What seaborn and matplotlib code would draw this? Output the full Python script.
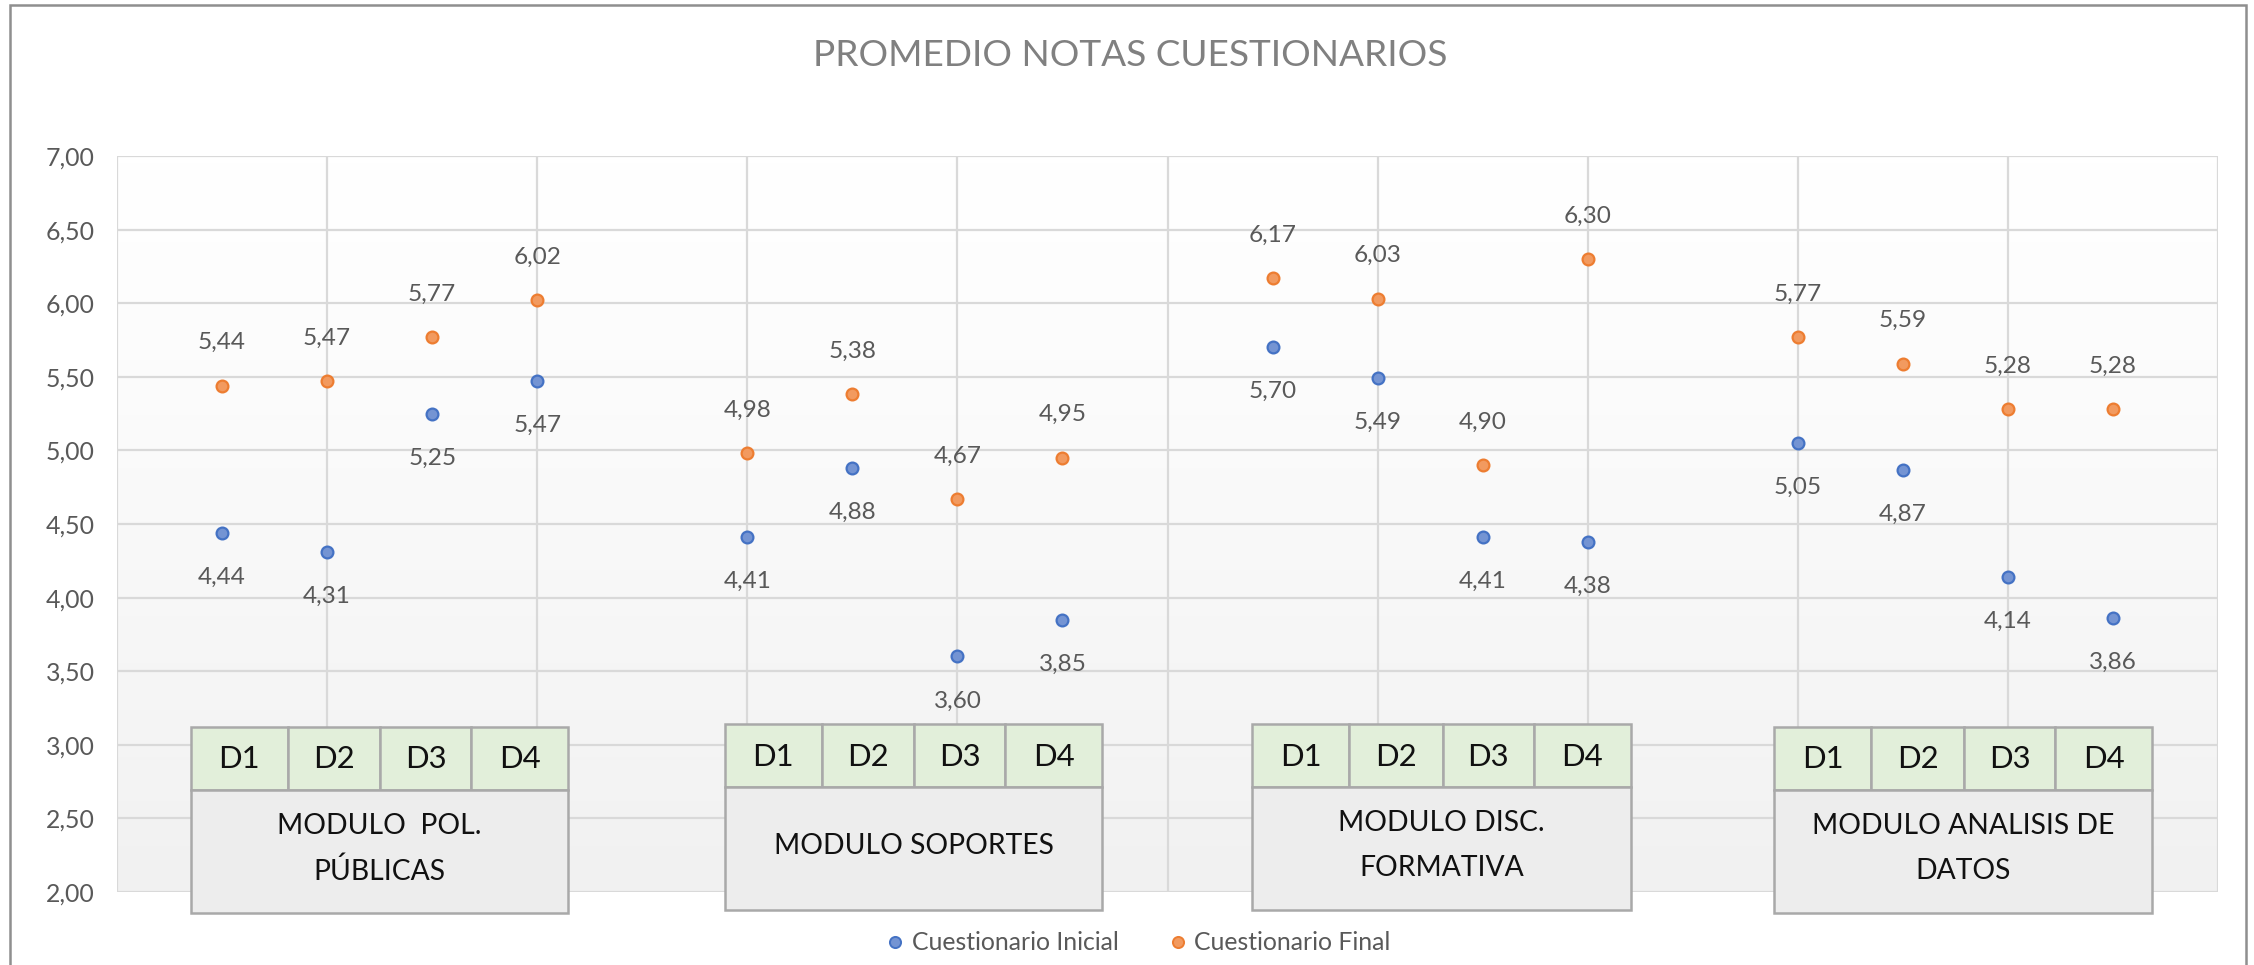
import numpy as np
import pandas as pd
import matplotlib
matplotlib.use("Agg")
import matplotlib.pyplot as plt
import seaborn as sns
from matplotlib.patches import Rectangle
from matplotlib.lines import Line2D
from matplotlib.colors import LinearSegmentedColormap

# ---------------- data ----------------
title = "PROMEDIO NOTAS CUESTIONARIOS"
modules = ["MODULO  POL.\nPÚBLICAS", "MODULO SOPORTES",
           "MODULO DISC.\nFORMATIVA", "MODULO ANALISIS DE\nDATOS"]
dims = ["D1", "D2", "D3", "D4"]
series_names = ["Cuestionario Inicial", "Cuestionario Final"]
x_pos = [0.5, 1.0, 1.5, 2.0, 3.0, 3.5, 4.0, 4.5,
         5.5, 6.0, 6.5, 7.0, 8.0, 8.5, 9.0, 9.5]
inicial = [4.44, 4.31, 5.25, 5.47, 4.41, 4.88, 3.60, 3.85,
           5.70, 5.49, 4.41, 4.38, 5.05, 4.87, 4.14, 3.86]
final = [5.44, 5.47, 5.77, 6.02, 4.98, 5.38, 4.67, 4.95,
         6.17, 6.03, 4.90, 6.30, 5.77, 5.59, 5.28, 5.28]
y_ticks = [2.0, 2.5, 3.0, 3.5, 4.0, 4.5, 5.0, 5.5, 6.0, 6.5, 7.0]
y_tick_labels = ["2,00", "2,50", "3,00", "3,50", "4,00", "4,50",
                 "5,00", "5,50", "6,00", "6,50", "7,00"]

# ---------------- style ----------------
sns.set_theme(style="white")
plt.rcParams["font.family"] = ["Lato", "DejaVu Sans"]

BLUE_FACE, BLUE_EDGE = "#7494D3", "#4472C4"
ORANGE_FACE, ORANGE_EDGE = "#F29A5F", "#ED7D31"
TXT = "#595959"

W, H = 2254, 965
fig = plt.figure(figsize=(W / 100, H / 100), dpi=100)
fig.patch.set_facecolor("white")
renderer = fig.canvas.get_renderer()


def fx(px):
    return px / W


def fy(py):
    return 1 - py / H


def size_for(sample, target_px, base=20.0):
    t = fig.text(0, 0, sample, fontsize=base)
    w = t.get_window_extent(renderer).width
    t.remove()
    return base * target_px / w


FS_TITLE = size_for(title, 632)
FS_TICK = size_for("7,00", 49)
FS_LABEL = size_for("4,14", 48)
FS_MOD = size_for("MODULO ANALISIS DE", 300)
FS_DIM = FS_MOD * 1.1
FS_LEG = size_for(series_names[0], 208)

ax = fig.add_axes([fx(117), fy(892), fx(2218) - fx(117), fy(156) - fy(892)])

# gradient plot-area background
cmap = LinearSegmentedColormap.from_list("bg", ["#ffffff", "#f1f1f1"])
ax.imshow(np.linspace(0, 1, 256).reshape(-1, 1) ** 1.2, extent=[0, 10, 2, 7],
          aspect="auto", cmap=cmap, vmin=0, vmax=1, origin="upper", zorder=0)

df = pd.DataFrame({
    "x": x_pos + x_pos,
    "y": inicial + final,
    "serie": [series_names[0]] * len(inicial) + [series_names[1]] * len(final),
})
for name, face, edge in [(series_names[0], BLUE_FACE, BLUE_EDGE),
                         (series_names[1], ORANGE_FACE, ORANGE_EDGE)]:
    sns.scatterplot(data=df[df["serie"] == name], x="x", y="y", ax=ax,
                    color=face, edgecolor=edge, linewidth=1.6, s=72,
                    legend=False, zorder=3)

# data labels
for xv, yv in zip(x_pos, inicial):
    ax.annotate(f"{yv:.2f}".replace(".", ","), (xv, yv), xytext=(0, -32),
                textcoords="offset points", ha="center", va="center",
                fontsize=FS_LABEL, color=TXT, zorder=4)
for xv, yv in zip(x_pos, final):
    ax.annotate(f"{yv:.2f}".replace(".", ","), (xv, yv), xytext=(0, 31),
                textcoords="offset points", ha="center", va="center",
                fontsize=FS_LABEL, color=TXT, zorder=4)

ax.set_xlim(0, 10)
ax.set_ylim(2, 7)
ax.set_xticks(range(11))
ax.set_xticklabels([])
ax.set_yticks(y_ticks)
ax.set_yticklabels(y_tick_labels)
ax.set_xlabel("")
ax.set_ylabel("")
ax.grid(True, color="#d9d9d9", lw=1.6)
ax.set_axisbelow(True)
for s in ax.spines.values():
    s.set_visible(False)
ax.tick_params(axis="both", length=0)
ax.tick_params(axis="y", pad=16, labelsize=FS_TICK, labelcolor=TXT)

# ---------------- category tables (shapes) ----------------
table_boxes = [  # left, right, top, mid, bottom in figure pixels
    (191, 568, 727, 790, 913),
    (725, 1102, 724, 787, 910),
    (1252, 1631, 724, 787, 910),
    (1774, 2152, 727, 790, 913),
]
cell_frac = [97, 93, 91, 97]
BORDER = "#a9a9a9"
LINE_GAP = 45
for (l, r, t, m, b), mod in zip(table_boxes, modules):
    w = r - l
    edges = [l]
    tot = sum(cell_frac)
    for cf in cell_frac:
        edges.append(edges[-1] + w * cf / tot)
    for j, d in enumerate(dims):
        x0, x1 = edges[j], edges[j + 1]
        fig.add_artist(Rectangle((fx(x0), fy(m)), fx(x1) - fx(x0), fy(t) - fy(m),
                                 transform=fig.transFigure, facecolor="#E2EFDA",
                                 edgecolor=BORDER, lw=1.8, zorder=5))
        fig.text(fx((x0 + x1) / 2), fy((t + m) / 2 + 1), d, ha="center", va="center",
                 fontsize=FS_DIM, color="#111111", zorder=6)
    fig.add_artist(Rectangle((fx(l), fy(b)), fx(r) - fx(l), fy(m) - fy(b),
                             transform=fig.transFigure, facecolor="#EDEDED",
                             edgecolor=BORDER, lw=1.8, zorder=5))
    lines = mod.split("\n")
    cy = (m + b) / 2 - 3
    n = len(lines)
    for i, line in enumerate(lines):
        yy = cy + (i - (n - 1) / 2) * LINE_GAP
        fig.text(fx((l + r) / 2), fy(yy), line, ha="center", va="center",
                 fontsize=FS_MOD, color="#111111", zorder=6)

# ---------------- title, legend, border ----------------
fig.text(fx(1130), fy(55), title, ha="center", va="center",
         fontsize=FS_TITLE, color="#808080")

handles = [Line2D([], [], ls="", marker="o", markersize=8,
                  markerfacecolor=BLUE_FACE, markeredgecolor=BLUE_EDGE, markeredgewidth=1.4),
           Line2D([], [], ls="", marker="o", markersize=8,
                  markerfacecolor=ORANGE_FACE, markeredgecolor=ORANGE_EDGE, markeredgewidth=1.4)]
fig.legend(handles, series_names, loc="center", bbox_to_anchor=(fx(1138), fy(943)),
           ncol=2, frameon=False, fontsize=FS_LEG, labelcolor=TXT,
           handletextpad=0.25, columnspacing=2.0, handlelength=0.8)

fig.add_artist(Rectangle((fx(10), fy(975)), fx(2246) - fx(10), fy(5) - fy(975),
                         transform=fig.transFigure, fill=False,
                         edgecolor="#8f8f8f", lw=1.8, zorder=10))

fig.savefig("out.png", dpi=100)
